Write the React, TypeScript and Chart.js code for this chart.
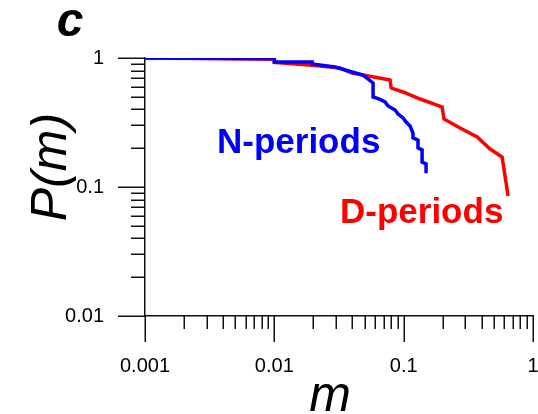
import React, { useEffect, useRef } from 'react';
import { Chart, registerables } from 'chart.js';

Chart.register(...registerables);

// N-periods (blue) empirical distribution
const nPeriodsM = [0.001, 0.01, 0.01, 0.0196, 0.0196, 0.0295, 0.0399, 0.0485, 0.058, 0.058, 0.065, 0.0718, 0.0757, 0.0858, 0.0906, 0.099, 0.1044, 0.112, 0.118, 0.118, 0.129, 0.129, 0.1388, 0.1388, 0.149, 0.149];
const nPeriodsP = [1, 0.99, 0.93, 0.93, 0.90, 0.852, 0.779, 0.738, 0.64, 0.499, 0.48, 0.456, 0.425, 0.395, 0.368, 0.343, 0.319, 0.297, 0.262, 0.24, 0.231, 0.201, 0.194, 0.156, 0.151, 0.128];

// D-periods (red) empirical distribution
const dPeriodsM = [0.001, 0.01, 0.01, 0.0196, 0.0322, 0.0399, 0.0785, 0.08, 0.099, 0.134, 0.181, 0.198, 0.205, 0.273, 0.37, 0.466, 0.577, 0.642];
const dPeriodsP = [1, 0.98, 0.925, 0.88, 0.837, 0.765, 0.675, 0.585, 0.545, 0.481, 0.432, 0.417, 0.337, 0.287, 0.244, 0.197, 0.171, 0.085];

// axes
const xTickValues = [0.001, 0.01, 0.1, 1];
const xTickLabels = ['0.001', '0.01', '0.1', '1'];
const yTickValues = [0.01, 0.1, 1];
const yTickLabels = ['0.01', '0.1', '1'];
const minorMultipliers = [2, 3, 4, 5, 6, 7, 8, 9];

const FONT = '"Liberation Sans", Arial, Helvetica, sans-serif';

const decorPlugin = {
  id: 'decor',
  afterDraw(chart: any) {
    const ctx: CanvasRenderingContext2D = chart.ctx;
    const xs = chart.scales.x;
    const ys = chart.scales.y;
    ctx.save();
    ctx.strokeStyle = '#111';
    ctx.lineWidth = 1.5;
    const line = (x1: number, y1: number, x2: number, y2: number) => {
      ctx.beginPath();
      ctx.moveTo(x1, y1);
      ctx.lineTo(x2, y2);
      ctx.stroke();
    };
    // x ticks
    const xAxisY = xs.top;
    xTickValues.forEach((d, i) => {
      const px = Math.round(xs.getPixelForValue(d)) + 0.25;
      line(px, xAxisY, px, xAxisY + 26);
      if (i < xTickValues.length - 1) {
        minorMultipliers.forEach((k) => {
          const p = Math.round(xs.getPixelForValue(d * k)) + 0.25;
          line(p, xAxisY, p, xAxisY + 13);
        });
      }
    });
    // y ticks
    const yAxisX = ys.right;
    yTickValues.forEach((d, i) => {
      const py = Math.round(ys.getPixelForValue(d)) + 0.25;
      line(yAxisX - 27, py, yAxisX, py);
      if (i < yTickValues.length - 1) {
        minorMultipliers.forEach((k) => {
          const p = Math.round(ys.getPixelForValue(d * k)) + 0.25;
          line(yAxisX - 14, p, yAxisX, p);
        });
      }
    });

    // panel letter
    ctx.fillStyle = '#000';
    ctx.textAlign = 'center';
    ctx.textBaseline = 'alphabetic';
    ctx.font = `italic bold 48px ${FONT}`;
    ctx.fillText('c', 70, 36);

    // axis titles
    ctx.font = `italic 50px ${FONT}`;
    ctx.fillText('m', 330, 411);
    ctx.save();
    ctx.translate(66, 167);
    ctx.rotate(-Math.PI / 2);
    ctx.fillText('P(m)', 0, 0);
    ctx.restore();

    // series annotations
    ctx.textAlign = 'left';
    ctx.font = `bold 35px ${FONT}`;
    ctx.fillStyle = '#0000ff';
    ctx.fillText('N-periods', 217, 153);
    ctx.fillStyle = '#ff0000';
    ctx.fillText('D-periods', 340, 223);
    ctx.restore();
  },
};

export default function App() {
  const ref = useRef<HTMLCanvasElement | null>(null);

  useEffect(() => {
    if (!ref.current) return;
    const chart = new Chart(ref.current, {
      type: 'scatter',
      data: {
        datasets: [
          {
            label: 'N-periods',
            data: nPeriodsM.map((m, i) => ({ x: m, y: nPeriodsP[i] })),
            showLine: true,
            borderColor: '#0000ff',
            backgroundColor: '#0000ff',
            borderWidth: 3.5,
            pointRadius: 0,
            tension: 0,
          },
          {
            label: 'D-periods',
            data: dPeriodsM.map((m, i) => ({ x: m, y: dPeriodsP[i] })),
            showLine: true,
            borderColor: '#ff0000',
            backgroundColor: '#ff0000',
            borderWidth: 3.5,
            pointRadius: 0,
            tension: 0,
          },
        ],
      },
      options: {
        responsive: false,
        animation: false,
        layout: { padding: { top: 58, right: 5, left: 0, bottom: 0 } },
        plugins: {
          legend: { display: false },
          tooltip: { enabled: false },
          title: { display: false },
        },
        scales: {
          x: {
            type: 'logarithmic',
            min: 0.001,
            max: 1,
            afterFit: (s: any) => {
              s.height = 98;
              s.paddingLeft = 0;
              s.paddingRight = 0;
            },
            afterBuildTicks: (s: any) => {
              s.ticks = xTickValues.map((v) => ({ value: v }));
            },
            grid: { display: false, drawTicks: false },
            border: { display: true, color: '#111', width: 1.5 },
            ticks: {
              autoSkip: false,
              maxRotation: 0,
              padding: 38,
              color: '#000',
              font: { family: FONT, size: 20 },
              callback: (v: any) => {
                const i = xTickValues.findIndex((t) => Math.abs(t - Number(v)) < 1e-12);
                return i >= 0 ? xTickLabels[i] : '';
              },
            },
          },
          y: {
            type: 'logarithmic',
            min: 0.01,
            max: 1,
            afterFit: (s: any) => {
              s.width = 145;
              s.paddingTop = 0;
              s.paddingBottom = 0;
            },
            afterBuildTicks: (s: any) => {
              s.ticks = yTickValues.map((v) => ({ value: v }));
            },
            grid: { display: false, drawTicks: false },
            border: { display: true, color: '#111', width: 1.5 },
            ticks: {
              autoSkip: false,
              padding: 41,
              color: '#000',
              font: { family: FONT, size: 20 },
              callback: (v: any) => {
                const i = yTickValues.findIndex((t) => Math.abs(t - Number(v)) < 1e-12);
                return i >= 0 ? yTickLabels[i] : '';
              },
            },
          },
        },
      },
      plugins: [decorPlugin],
    });
    return () => chart.destroy();
  }, []);

  return (
    <div style={{ position: 'absolute', left: 0, top: 0, width: 538, height: 414, background: '#fff' }}>
      <canvas ref={ref} width={538} height={414} style={{ display: 'block' }} />
    </div>
  );
}
